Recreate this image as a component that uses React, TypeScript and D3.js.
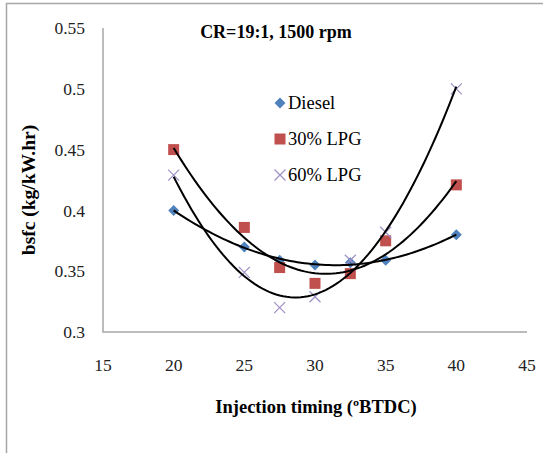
import React from "react";
import * as d3 from "d3";

const timing = [20, 25, 27.5, 30, 32.5, 35, 40];
const diesel = [0.4, 0.37, 0.359, 0.355, 0.357, 0.359, 0.38];
const lpg30 = [0.45, 0.386, 0.353, 0.34, 0.348, 0.375, 0.421];
const lpg60 = [0.429, 0.349, 0.32, 0.329, 0.359, 0.382, 0.5];
const xTicks = [15, 20, 25, 30, 35, 40, 45];
const yTicks = [0.3, 0.35, 0.4, 0.45, 0.5, 0.55];
const seriesNames = ["Diesel", "30% LPG", "60% LPG"];

function quadFit(xs: number[], ys: number[]) {
  const S = [0, 0, 0, 0, 0];
  const T = [0, 0, 0];
  xs.forEach((x, i) => {
    for (let k = 0; k < 5; k++) S[k] += Math.pow(x, k);
    for (let k = 0; k < 3; k++) T[k] += ys[i] * Math.pow(x, k);
  });
  const M = [
    [S[0], S[1], S[2], T[0]],
    [S[1], S[2], S[3], T[1]],
    [S[2], S[3], S[4], T[2]],
  ];
  for (let i = 0; i < 3; i++) {
    let p = i;
    for (let r = i + 1; r < 3; r++) if (Math.abs(M[r][i]) > Math.abs(M[p][i])) p = r;
    [M[i], M[p]] = [M[p], M[i]];
    for (let r = 0; r < 3; r++) {
      if (r === i) continue;
      const f = M[r][i] / M[i][i];
      for (let c = i; c < 4; c++) M[r][c] -= f * M[i][c];
    }
  }
  const coef = [M[0][3] / M[0][0], M[1][3] / M[1][1], M[2][3] / M[2][2]];
  return (x: number) => coef[0] + coef[1] * x + coef[2] * x * x;
}

export default function App() {
  const W = 543, H = 453;
  const x = d3.scaleLinear().domain([15, 45]).range([103, 527]);
  const y = d3.scaleLinear().domain([0.3, 0.55]).range([332, 28]);
  const font = "Liberation Serif, Times New Roman, DejaVu Serif, serif";
  const all = [diesel, lpg30, lpg60];
  const samples = d3.range(20, 40.001, 0.25);
  const line = d3.line<[number, number]>().x((d) => x(d[0])).y((d) => y(d[1]));

  const diamond = (cx: number, cy: number, key: string) => (
    <path key={key} d={`M${cx},${cy - 5.5}L${cx + 5.5},${cy}L${cx},${cy + 5.5}L${cx - 5.5},${cy}Z`} fill="#4F81BD" />
  );
  const square = (cx: number, cy: number, key: string) => (
    <rect key={key} x={cx - 5.5} y={cy - 5.5} width={11} height={11} fill="#C0504D" />
  );
  const cross = (cx: number, cy: number, key: string) => (
    <path key={key} d={`M${cx - 5.5},${cy - 5.5}L${cx + 5.5},${cy + 5.5}M${cx + 5.5},${cy - 5.5}L${cx - 5.5},${cy + 5.5}`} stroke="#9F8FC4" strokeWidth={1.2} fill="none" />
  );
  const markers = [diamond, square, cross];

  return (
    <svg width={W} height={H} style={{ position: "absolute", left: 0, top: 0, background: "#fff", fontFamily: font }}>
      <rect x={0} y={0} width={W} height={H} fill="#fff" />
      <path d={`M6.5,${H}V3.5H${W}`} stroke="#a6a6a6" strokeWidth={1.5} fill="none" />
      <path d={`M${x(15)},${y(0.55)}V${y(0.3)}H${x(45)}`} stroke="#a6a6a6" strokeWidth={1.5} fill="none" />
      {yTicks.map((t) => (
        <text key={"y" + t} x={85} y={y(t)} dy="0.35em" textAnchor="end" style={{ fontFamily: font }} fontSize={17.5} fill="#222">
          {t}
        </text>
      ))}
      {xTicks.map((t) => (
        <text key={"x" + t} x={x(t)} y={365} dy="0.35em" textAnchor="middle" style={{ fontFamily: font }} fontSize={17.5} fill="#222">
          {t}
        </text>
      ))}
      <text x={276} y={32} dy="0.35em" textAnchor="middle" style={{ fontFamily: font }} fontSize={18} fontWeight="bold" fill="#000">
        CR=19:1, 1500 rpm
      </text>
      <text x={316} y={407} dy="0.35em" textAnchor="middle" style={{ fontFamily: font }} fontSize={18.5} fontWeight="bold" fill="#000">
        Injection timing (ºBTDC)
      </text>
      <text transform={`translate(28,190) rotate(-90)`} dy="0.35em" textAnchor="middle" style={{ fontFamily: font }} fontSize={19.5} fontWeight="bold" fill="#000">
        bsfc (kg/kW.hr)
      </text>
      {all.map((s, si) => timing.map((t, i) => markers[si](x(t), y(s[i]), `m${si}-${i}`)))}
      {all.map((s, si) => {
        const f = quadFit(timing, s);
        return <path key={"t" + si} d={line(samples.map((v) => [v, f(v)]) as [number, number][]) || ""} stroke="#000" strokeWidth={2} fill="none" />;
      })}
      {seriesNames.map((n, i) => (
        <g key={n}>
          {markers[i](280, 103 + i * 36, "l" + i)}
          <text x={288} y={103 + i * 36} dy="0.35em" style={{ fontFamily: font }} fontSize={18.5} fill="#000">
            {n}
          </text>
        </g>
      ))}
    </svg>
  );
}
